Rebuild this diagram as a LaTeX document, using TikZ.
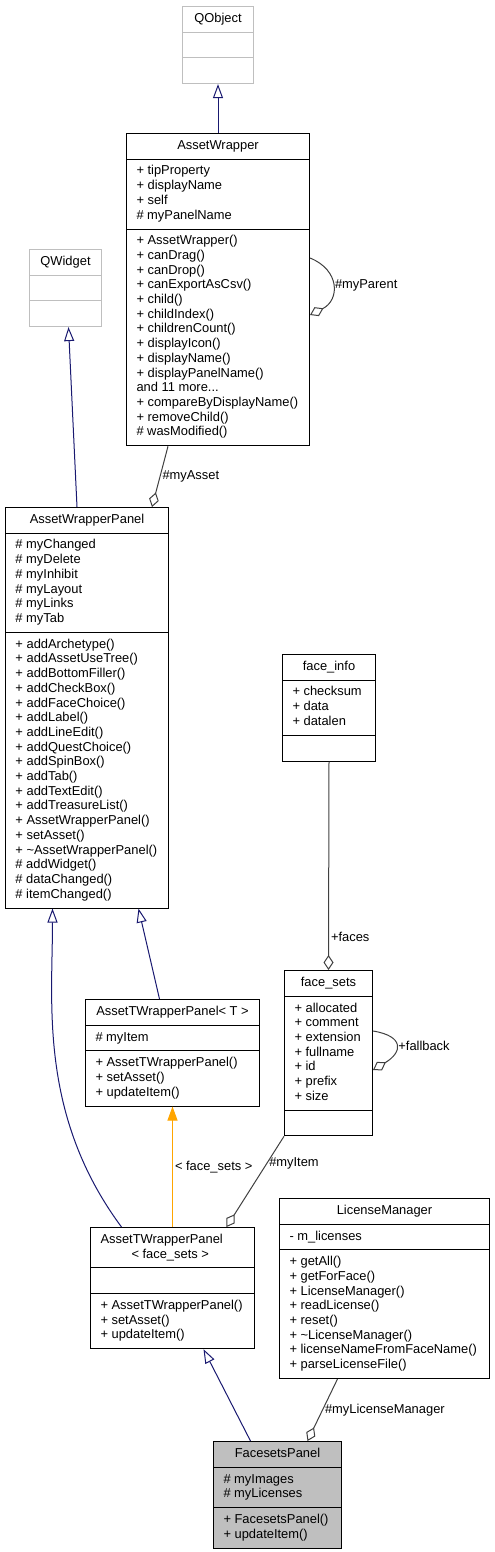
\documentclass[tikz,border=0pt]{standalone}
\usepackage{fontspec}
\setmainfont{Liberation Sans}
\usetikzlibrary{shapes.multipart, arrows.meta}
\usepackage{xcolor}
\definecolor{edgeblue}{HTML}{191970}
\definecolor{edgeorange}{HTML}{FFA500}
\definecolor{edgegrey}{HTML}{404040}
\newcommand{\mem}[1]{\strut#1}

\begin{document}
\begin{tikzpicture}[
        x=1pt, y=-1pt,
        cls/.style={
            rectangle split, rectangle split parts=3,
            rectangle split part align={center,left,left},
            draw=black, line width=1pt, align=left, anchor=north west,
            inner xsep=10pt, inner ysep=5pt,
            font=\fontsize{12.9}{14.7}\selectfont
        },
        ext/.style={cls, draw=gray!50},
        root/.style={cls, fill=gray!50},
        inherit/.style={draw=edgeblue, line width=1pt, -{Triangle[open, length=14pt, width=10pt]}},
        tmpl/.style={draw=edgeorange, line width=1pt, -{Triangle[length=14pt, width=10pt]}},
        agg/.style={draw=edgegrey, line width=1pt, -{Diamond[open, length=15pt, width=10pt]}},
        lbl/.style={font=\fontsize{12.9}{14.7}\selectfont, inner sep=2pt}
    ]
    \useasboundingbox (0,0) rectangle (495,1552);

    \node [ext, minimum width=71pt] (qobject) at (182,6) {\mem{QObject}%
        \nodepart{two}\mem{}%
        \nodepart{three}\mem{}};

    \node [cls, minimum width=183pt] (wrapper) at (126,133) {\mem{AssetWrapper}%
        \nodepart{two}\mem{+ tipProperty}\\ \mem{+ displayName}\\ \mem{+ self}\\ \mem{\# myPanelName}%
        \nodepart{three}\mem{+ AssetWrapper()}\\ \mem{+ canDrag()}\\ \mem{+ canDrop()}\\
        \mem{+ canExportAsCsv()}\\ \mem{+ child()}\\ \mem{+ childIndex()}\\ \mem{+ childrenCount()}\\
        \mem{+ displayIcon()}\\ \mem{+ displayName()}\\ \mem{+ displayPanelName()}\\
        \mem{and 11 more...}\\ \mem{+ compareByDisplayName()}\\ \mem{+ removeChild()}\\
        \mem{\# wasModified()}};

    \node [ext, minimum width=72pt] (qwidget) at (29,249) {\mem{QWidget}%
        \nodepart{two}\mem{}%
        \nodepart{three}\mem{}};

    \node [cls, minimum width=163pt] (panel) at (5,507) {\mem{AssetWrapperPanel}%
        \nodepart{two}\mem{\# myChanged}\\ \mem{\# myDelete}\\ \mem{\# myInhibit}\\
        \mem{\# myLayout}\\ \mem{\# myLinks}\\ \mem{\# myTab}%
        \nodepart{three}\mem{+ addArchetype()}\\ \mem{+ addAssetUseTree()}\\ \mem{+ addBottomFiller()}\\
        \mem{+ addCheckBox()}\\ \mem{+ addFaceChoice()}\\ \mem{+ addLabel()}\\ \mem{+ addLineEdit()}\\
        \mem{+ addQuestChoice()}\\ \mem{+ addSpinBox()}\\ \mem{+ addTab()}\\ \mem{+ addTextEdit()}\\
        \mem{+ addTreasureList()}\\ \mem{+ AssetWrapperPanel()}\\ \mem{+ setAsset()}\\
        \mem{+ \textasciitilde AssetWrapperPanel()}\\ \mem{\# addWidget()}\\ \mem{\# dataChanged()}\\
        \mem{\# itemChanged()}};

    \node [cls, minimum width=93pt] (faceinfo) at (282,654) {\mem{face\_info}%
        \nodepart{two}\mem{+ checksum}\\ \mem{+ data}\\ \mem{+ datalen}%
        \nodepart{three}\mem{}};

    \node [cls, minimum width=88pt] (facesets) at (284,970) {\mem{face\_sets}%
        \nodepart{two}\mem{+ allocated}\\ \mem{+ comment}\\ \mem{+ extension}\\ \mem{+ fullname}\\
        \mem{+ id}\\ \mem{+ prefix}\\ \mem{+ size}%
        \nodepart{three}\mem{}};

    \node [cls, minimum width=174pt] (tpanel) at (85,999) {\mem{AssetTWrapperPanel< T >}%
        \nodepart{two}\mem{\# myItem}%
        \nodepart{three}\mem{+ AssetTWrapperPanel()}\\ \mem{+ setAsset()}\\ \mem{+ updateItem()}};

    \node [cls, minimum width=164pt, rectangle split part align={left,left,left}] (tfaces) at (90,1227)
        {\mem{AssetTWrapperPanel}\\ \hspace*{31pt}\mem{< face\_sets >}%
        \nodepart{two}\mem{}%
        \nodepart{three}\mem{+ AssetTWrapperPanel()}\\ \mem{+ setAsset()}\\ \mem{+ updateItem()}};

    \node [cls, minimum width=210pt] (license) at (279,1198) {\mem{LicenseManager}%
        \nodepart{two}\mem{- m\_licenses}%
        \nodepart{three}\mem{+ getAll()}\\ \mem{+ getForFace()}\\ \mem{+ LicenseManager()}\\
        \mem{+ readLicense()}\\ \mem{+ reset()}\\ \mem{+ \textasciitilde LicenseManager()}\\
        \mem{+ licenseNameFromFaceName()}\\ \mem{+ parseLicenseFile()}};

    \node [root, minimum width=128pt] (facesetspanel) at (213,1441) {\mem{FacesetsPanel}%
        \nodepart{two}\mem{\# myImages}\\ \mem{\# myLicenses}%
        \nodepart{three}\mem{+ FacesetsPanel()}\\ \mem{+ updateItem()}};

    \draw [inherit] (wrapper.north) -- (qobject.south);
    \draw [inherit] ([xshift=-10pt]panel.north) -- ([xshift=3pt]qwidget.south);
    \draw [agg] ([xshift=-50pt]wrapper.south) -- node[lbl, right] {\#myAsset} ([xshift=65pt]panel.north);
    \draw [agg] ([yshift=-125pt]wrapper.north east) .. controls +(30,12) and +(30,-15) ..
        ([yshift=-182pt]wrapper.north east) node[lbl, pos=.5, right] {\#myParent};

    \draw [inherit] ([xshift=-13pt]tpanel.north) -- ([xshift=51.5pt]panel.south);
    \draw [inherit] ([xshift=-51pt]tfaces.north) .. controls +(-83,-112) and +(0,94) .. ([xshift=-34.5pt]panel.south);
    \draw [tmpl] (tfaces.north) -- node[lbl, right] {< face\_sets >} (tpanel.south);

    \draw [agg] (faceinfo.south) -- node[lbl, pos=.84, right] {+faces} (facesets.north);
    \draw [agg] ([yshift=-61pt]facesets.north east) .. controls +(31,5) and +(30,-18) ..
        ([yshift=-100pt]facesets.north east) node[lbl, pos=.5, right] {+fallback};
    \draw [agg] (facesets.south west) -- node[lbl, pos=.3, right] {\#myItem} ([xshift=54pt]tfaces.north);

    \draw [agg] ([xshift=-47pt]license.south) -- node[lbl, right] {\#myLicenseManager} ([xshift=30pt]facesetspanel.north);
    \draw [inherit] ([xshift=-27pt]facesetspanel.north) -- ([xshift=31pt]tfaces.south);

\end{tikzpicture}
\end{document}
